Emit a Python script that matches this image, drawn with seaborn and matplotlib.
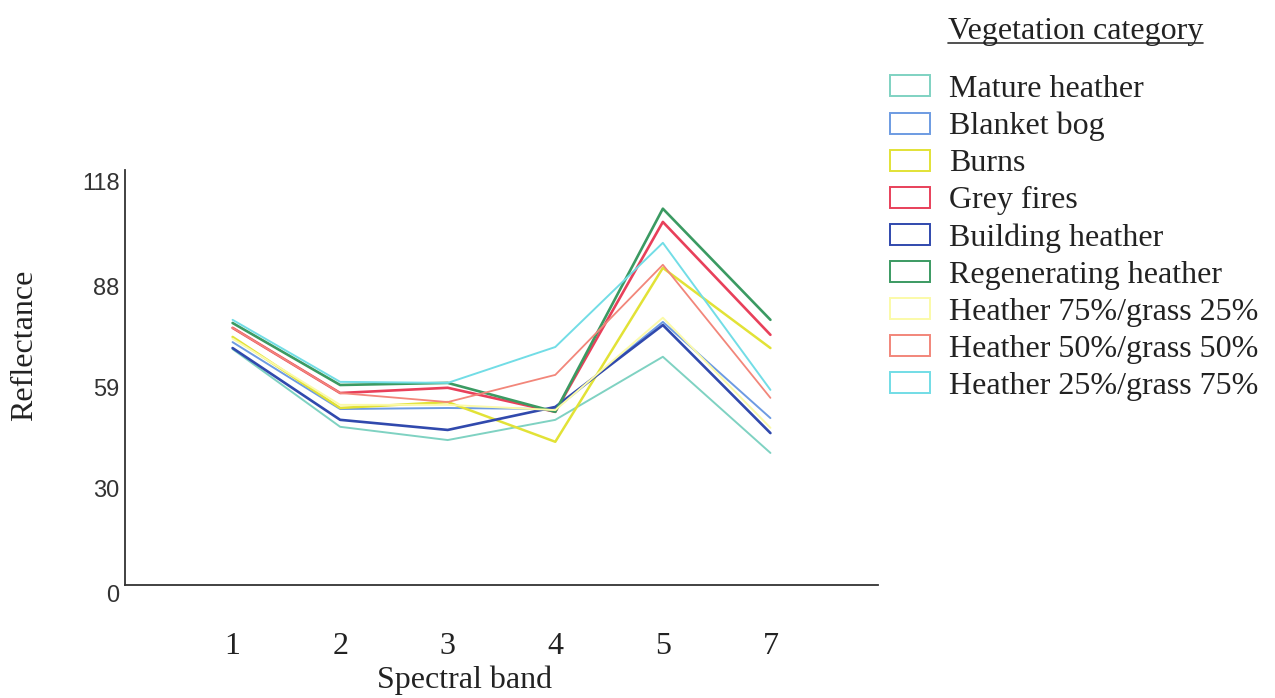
import numpy as np
import pandas as pd
import matplotlib
matplotlib.use("Agg")
import matplotlib.pyplot as plt
from matplotlib.patches import Patch
from matplotlib.lines import Line2D
import seaborn as sns

# Spectral bands on the x axis
bands = ["1", "2", "3", "4", "5", "7"]

categories = [
    "Mature heather",
    "Blanket bog",
    "Burns",
    "Grey fires",
    "Building heather",
    "Regenerating heather",
    "Heather 75%/grass 25%",
    "Heather 50%/grass 50%",
    "Heather 25%/grass 75%",
]

# Mean reflectance per band for each vegetation category
mature_heather = [70.0, 47.7, 43.9, 49.7, 67.8, 40.2]
blanket_bog = [72.0, 52.8, 53.1, 52.8, 77.8, 50.2]
burns = [73.5, 53.1, 54.8, 43.4, 93.3, 70.3]
grey_fires = [76.1, 57.4, 58.9, 52.0, 106.5, 74.1]
building_heather = [70.3, 49.7, 46.8, 53.4, 76.9, 45.9]
regenerating_heather = [77.5, 59.7, 60.3, 52.0, 110.3, 78.4]
heather75_grass25 = [73.0, 54.0, 54.0, 52.5, 79.0, 47.4]
heather50_grass50 = [76.1, 57.4, 54.8, 62.6, 94.2, 56.0]
heather25_grass75 = [78.4, 60.6, 60.3, 70.6, 100.5, 58.3]

series = [mature_heather, blanket_bog, burns, grey_fires, building_heather,
          regenerating_heather, heather75_grass25, heather50_grass50,
          heather25_grass75]

yticks = [0, 30, 59, 88, 118]

colors = ["#7fd2c2", "#6d9be2", "#e2e236", "#e8405a", "#3049ad",
          "#3b9a62", "#fbfaa8", "#f2867a", "#72dde6"]
widths = [1.4, 1.4, 1.8, 1.9, 1.9, 1.9, 1.4, 1.3, 1.4]

rows = []
for cat, vals in zip(categories, series):
    for i, (b, v) in enumerate(zip(bands, vals)):
        rows.append({"category": cat, "pos": i, "band": b, "reflectance": v})
df = pd.DataFrame(rows)

sns.set_theme(style="white")
plt.rcParams["font.family"] = ["Liberation Serif", "DejaVu Serif"]

fig = plt.figure(figsize=(12.75, 6.98), dpi=100)
ax = fig.add_axes([125 / 1275, 1 - 596.5 / 698, (878 - 125) / 1275, (596.5 - 170) / 698])

sns.lineplot(data=df, x="pos", y="reflectance", hue="category",
             hue_order=categories, palette=colors, legend=False,
             estimator=None, sort=False, ax=ax)
for line, lw in zip(ax.lines, widths):
    line.set_linewidth(lw)

ax.set_xlim(-1, 6)
ax.set_ylim(-1, 121.4)

for side in ["top", "right"]:
    ax.spines[side].set_visible(False)
ax.spines["bottom"].set_position(("data", 2.3))
ax.spines["left"].set_bounds(2.3, 121.4)
for side in ["left", "bottom"]:
    ax.spines[side].set_color("#333333")
    ax.spines[side].set_linewidth(1.3)

ax.set_xticks(range(len(bands)))
ax.set_xticklabels(bands, fontsize=23, family=["Liberation Serif"])
ax.set_yticks(yticks)
ax.set_yticklabels([str(t) for t in yticks], fontsize=17,
                   family=["Liberation Sans Narrow", "Liberation Sans"])
ax.tick_params(axis="x", length=0, pad=34, colors="#222222")
ax.tick_params(axis="y", length=0, pad=4, colors="#333333")

ax.set_xlabel("Spectral band", fontsize=23, color="#222222")
ax.set_ylabel("Reflectance", fontsize=23, color="#222222")
ax.xaxis.set_label_coords((465 - 125) / (878 - 125), -(680 - 596.5) / (596.5 - 170))
ax.xaxis.label.set_va("center")
ax.yaxis.set_label_coords(-(125 - 25) / (878 - 125), (596.5 - 345) / (596.5 - 170))
ax.yaxis.label.set_va("center")

handles = [Patch(facecolor="white", edgecolor=c, linewidth=1.4) for c in colors]
leg = fig.legend(handles, categories, loc="upper left",
                 bbox_to_anchor=(890 / 1275, 1 - 75 / 698),
                 frameon=False, fontsize=23, handlelength=1.25,
                 handleheight=0.62, handletextpad=0.6, labelspacing=0.25,
                 borderaxespad=0, borderpad=0)
for t in leg.get_texts():
    t.set_color("#222222")

title = fig.text(948 / 1275, 1 - 31 / 698, "Vegetation category", fontsize=23,
                 color="#222222", ha="left", va="center")
fig.canvas.draw()
bb = title.get_window_extent().transformed(fig.transFigure.inverted())
fig.add_artist(Line2D([bb.x0, bb.x1], [1 - 43 / 698] * 2,
                      transform=fig.transFigure, color="#333333", lw=1.2))

fig.savefig("out.png", dpi=100)
